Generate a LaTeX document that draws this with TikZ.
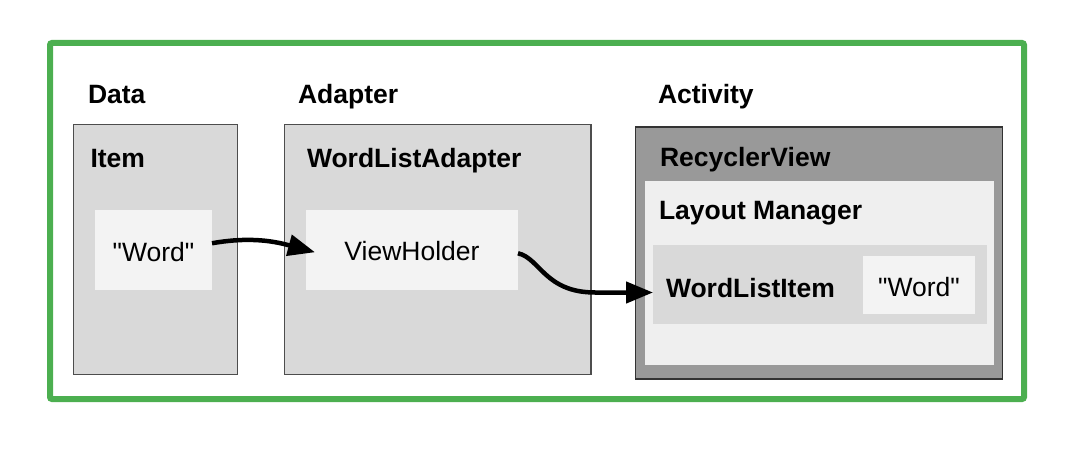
\documentclass[tikz,border=0pt]{standalone}
\usepackage{fontspec}
\setmainfont{Liberation Sans}[Ligatures=TeXOff]
\usetikzlibrary{arrows.meta}
\definecolor{framegreen}{RGB}{76,175,80}
\definecolor{boxgray}{RGB}{217,217,217}
\definecolor{paper}{RGB}{243,243,243}
\definecolor{lmgray}{RGB}{239,239,239}
\definecolor{rvgray}{RGB}{153,153,153}
\definecolor{edgegray}{RGB}{77,77,77}
\begin{document}
\begin{tikzpicture}[x=1pt,y=-1pt,
  every node/.style={inner sep=0pt,outer sep=0pt},
  panel/.style={rectangle,anchor=north west,fill=boxgray,draw=edgegray,line width=1.5pt},
  flat/.style={rectangle,anchor=north west,draw=none},
  head/.style={anchor=base west,font=\bfseries\fontsize{26.5}{30}\selectfont},
  plain/.style={anchor=base,font=\fontsize{26.5}{30}\selectfont},
  arr/.style={line width=4.5pt,-{Triangle[length=27pt,width=21pt]}}
]
\useasboundingbox (0,0) rectangle (1078,462);
% outer frame
\node[rectangle,anchor=north west,draw=framegreen,line width=6pt,rounded corners=2pt,
  minimum width=974pt,minimum height=356pt] (frame) at (50,43) {};
% column headings
\node[head] (hdata) at (88,104) {Data};
\node[head] (hadapter) at (298,104) {Adapter};
\node[head] (hactivity) at (658,104) {Activity};
% Data column
\node[panel,minimum width=164pt,minimum height=250pt] (data) at (73.5,124.5) {};
\node[head] (litem) at (90.5,168) {Item};
\node[flat,fill=paper,minimum width=117pt,minimum height=79.5pt] (word1) at (95,210.5) {};
\node[plain] (lword1) at (153.5,261.5) {"Word"};
% Adapter column
\node[panel,minimum width=306.5pt,minimum height=250pt] (adapter) at (284.5,124.5) {};
\node[head] (lwla) at (307,168) {WordListAdapter};
\node[flat,fill=paper,minimum width=212pt,minimum height=79.5pt] (vh) at (306,210.5) {};
\node[plain] (lvh) at (412,261) {ViewHolder};
% Activity column
\node[panel,fill=rvgray,draw=black!80,minimum width=367pt,minimum height=252pt] (activity) at (635.5,127) {};
\node[head] (lrv) at (660,167) {RecyclerView};
\node[flat,fill=lmgray,minimum width=349pt,minimum height=184pt] (lm) at (645,181) {};
\node[head] (llm) at (659,220) {Layout Manager};
\node[flat,fill=boxgray,minimum width=334pt,minimum height=79pt] (wli) at (653,245) {};
\node[head] (lwli) at (666,297) {WordListItem};
\node[flat,fill=paper,minimum width=112pt,minimum height=58pt] (word2) at (863,256) {};
\node[plain] (lword2) at (919,296.5) {"Word"};
% connectors
\draw[arr] ([yshift=7pt]word1.east) to[out=10,in=165] ([xshift=9pt,yshift=-2pt]vh.west);
\coordinate (bend) at (595,292.5);
\draw[arr] ([yshift=-3pt]vh.east) .. controls +(22,5) and +(-50,0) .. (bend) -- ([yshift=-8pt]wli.west);
\end{tikzpicture}
\end{document}
